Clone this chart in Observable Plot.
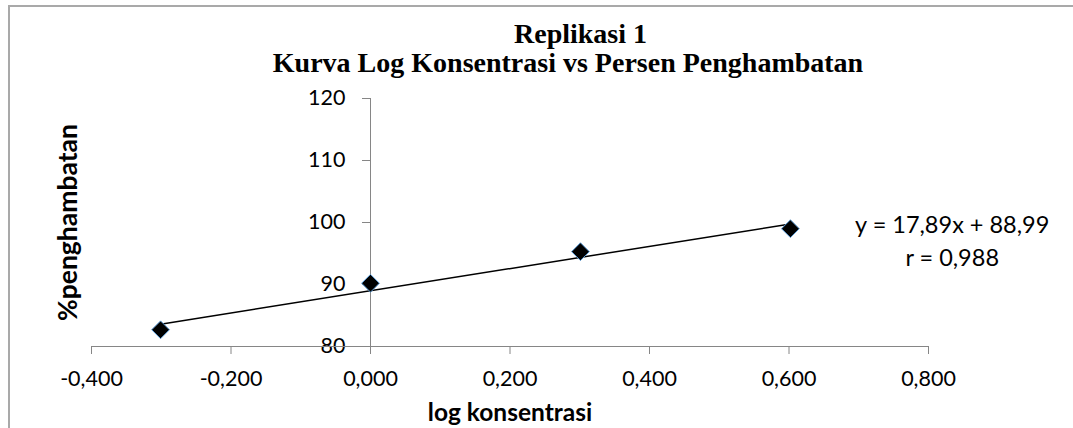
<!DOCTYPE html>
<html>
<head>
<meta charset="utf-8">
<script src="https://cdn.jsdelivr.net/npm/d3@7"></script>
<script src="https://cdn.jsdelivr.net/npm/@observablehq/plot@0.6"></script>
<style>
  html, body { margin: 0; padding: 0; background: #ffffff; overflow: hidden; }
  #wrap { position: relative; width: 1073px; height: 428px; overflow: hidden; }
  #border { position: absolute; left: 8px; top: 5px; width: 3000px; height: 3000px;
            border-left: 2px solid #a9a9a9; border-top: 2px solid #a9a9a9; pointer-events: none; }
  #chart { position: absolute; left: 0; top: 0; }
</style>
</head>
<body>
<div id="wrap"><div id="chart"></div><div id="border"></div></div>
<script>
// ---- data ----
const logKonsentrasi = [-0.301, 0.000, 0.301, 0.602];
const persenPenghambatan = [82.7, 90.2, 95.3, 99.0];
const xTicks = [-0.4, -0.2, 0, 0.2, 0.4, 0.6, 0.8];
const yTicks = [80, 90, 100, 110, 120];
const trendSlope = 17.89;
const trendIntercept = 88.99;
const titleLines = ["Replikasi 1", "Kurva Log Konsentrasi vs Persen Penghambatan"];
const xTitle = "log konsentrasi";
const yTitle = "%penghambatan";
const equationLines = ["y = 17,89x + 88,99", "r = 0,988"];

// ---- derived tables ----
const points = logKonsentrasi.map((x, i) => ({x, y: persenPenghambatan[i]}));
const trend = [d3.min(logKonsentrasi), d3.max(logKonsentrasi)]
  .map(x => ({x, y: trendSlope * x + trendIntercept}));
const fmtX = d => d.toFixed(3).replace(".", ",");

const axisColor = "#868686";
const sans = "Lato, 'Open Sans', sans-serif";
const serif = "'Liberation Serif', 'Times New Roman', serif";

const chart = Plot.plot({
  width: 1073,
  height: 428,
  marginLeft: 91,
  marginRight: 145,
  marginTop: 98,
  marginBottom: 82,
  x: {domain: [-0.4, 0.8], axis: null},
  y: {domain: [80, 120], axis: null},
  style: {fontFamily: sans, background: "transparent", color: "#000"},
  marks: [
    // y axis at x = 0
    Plot.ruleX([0], {y1: 80, y2: 120, stroke: axisColor, strokeWidth: 1}),
    Plot.ruleY(yTicks, {x1: 0, x2: 0, insetLeft: -8, stroke: axisColor, strokeWidth: 1}),
    Plot.text(yTicks, {x: 0, y: d => d, text: d => String(d), textAnchor: "end", dx: -25,
      fontSize: 21.5, fill: "#000"}),
    // x axis at y = 80
    Plot.ruleY([80], {x1: -0.4, x2: 0.8, stroke: axisColor, strokeWidth: 1}),
    Plot.ruleX(xTicks, {y1: 80, y2: 80, insetBottom: -8, stroke: axisColor, strokeWidth: 1}),
    Plot.text(xTicks, {x: d => d, y: 80, text: fmtX, dy: 33, lineAnchor: "middle",
      fontSize: 21.5, fill: "#000"}),
    // trend line
    Plot.line(trend, {x: "x", y: "y", stroke: "#000", strokeWidth: 1.5}),
    // data points
    Plot.dot(points, {x: "x", y: "y", symbol: "diamond2", r: 8, fill: "#000",
      stroke: "#5b9bd5", strokeWidth: 1}),
    // equation
    Plot.text([equationLines[0]], {x: 0.834, y: 99.5, text: d => d, fontSize: 23.5, fill: "#000"}),
    Plot.text([equationLines[1]], {x: 0.834, y: 94.2, text: d => d, fontSize: 23.5, fill: "#000"}),
    // axis titles
    Plot.text([yTitle], {frameAnchor: "left", text: d => d, rotate: -90, dx: -23,
      textAnchor: "middle", fontSize: 26.5, fontWeight: "bold", fill: "#000"}),
    Plot.text([xTitle], {frameAnchor: "bottom", text: d => d, dy: 67, lineAnchor: "middle",
      textAnchor: "middle", fontSize: 24.5, fontWeight: "bold", fill: "#000"}),
    // chart title
    Plot.text([titleLines[0]], {frameAnchor: "top", text: d => d, dx: 70.5, dy: -64,
      textAnchor: "middle", lineAnchor: "middle", fontSize: 28, fontWeight: "bold",
      fontFamily: serif, fill: "#000"}),
    Plot.text([titleLines[1]], {frameAnchor: "top", text: d => d, dx: 58, dy: -35,
      textAnchor: "middle", lineAnchor: "middle", fontSize: 28, fontWeight: "bold",
      fontFamily: serif, fill: "#000"})
  ]
});
document.getElementById("chart").appendChild(chart);
</script>
</body>
</html>
